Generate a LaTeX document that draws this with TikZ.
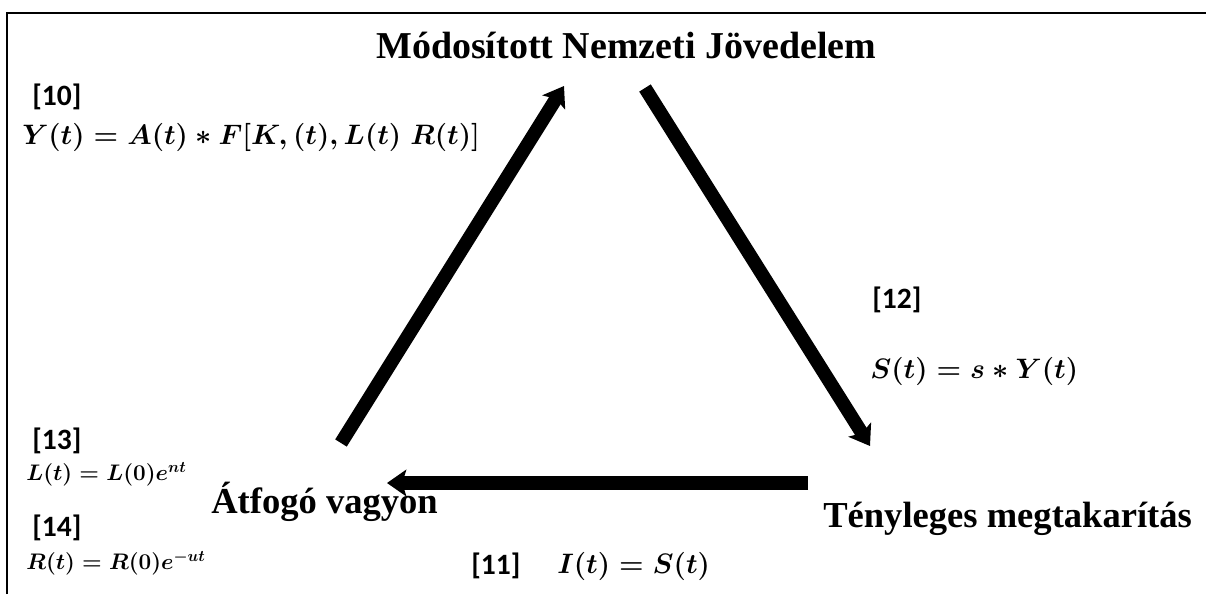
\RequirePackage{fix-cm}
\documentclass[tikz,border=0pt]{standalone}
\usepackage{amsmath}
\usepackage{fontspec}
\setmainfont{Liberation Serif}
\newfontfamily\calfont{Carlito}
\usetikzlibrary{arrows.meta, positioning}
\tikzset{
  heading/.style={font=\fontsize{26}{30}\selectfont\bfseries, inner sep=0pt, anchor=base west},
  eqno/.style={font=\calfont\fontsize{21}{24}\selectfont\bfseries, inner sep=0pt, anchor=west},
  bigeq/.style={font=\fontsize{20}{24}\selectfont, inner sep=0pt, anchor=west},
  smalleq/.style={font=\fontsize{16}{19}\selectfont, inner sep=0pt, anchor=west},
  flow/.style={-{Stealth[length=0.48cm, width=0.66cm, inset=0.1cm]}, line width=0.34cm},
  frameline/.style={line width=0.07cm}
}

\begin{document}
\begin{tikzpicture}[x=0.025cm, y=-0.025cm]
\useasboundingbox (0,0) rectangle (1206,594);
\draw [frameline] (7,594) -- (7,13) -- (1206,13);

% Three quantities
\node (income) [heading, font=\fontsize{27}{31}\selectfont\bfseries] at (376,58) {Módosított Nemzeti Jövedelem};
\node (saving) [heading] at (823,527) {Tényleges megtakarítás};
\node (wealth) [heading] at (211,513) {Átfogó vagyon};

% Equations
\node (n10) [eqno] at (32,97) {[10]};
\node (e10) [bigeq] at (22,137) {$\boldsymbol{Y(t) = A(t) \ast F[K,(t),L(t)\;R(t)]}$};
\node (n12) [eqno] at (872,300) {[12]};
\node (e12) [bigeq] at (870,371) {$\boldsymbol{S(t) = s \ast Y(t)}$};
\node (n11) [eqno] at (471,566) {[11]};
\node (e11) [bigeq] at (557,566) {$\boldsymbol{I(t) = S(t)}$};
\node (n13) [eqno] at (32,441) {[13]};
\node (e13) [smalleq] at (26,474) {$\boldsymbol{L(t) = L(0)e^{nt}}$};
\node (n14) [eqno] at (32,528) {[14]};
\node (e14) [smalleq] at (26,563) {$\boldsymbol{R(t) = R(0)e^{-ut}}$};

% Arrows
\coordinate (up0) at (341,443);
\coordinate (up1) at (564,86);
\coordinate (down0) at (645,88);
\coordinate (down1) at (870,446);
\coordinate (back0) at (808,483);
\coordinate (back1) at (387,483);
\draw [flow] (up0) -- (up1);
\draw [flow] (down0) -- (down1);
\draw [flow] (back0) -- (back1);
\end{tikzpicture}
\end{document}
